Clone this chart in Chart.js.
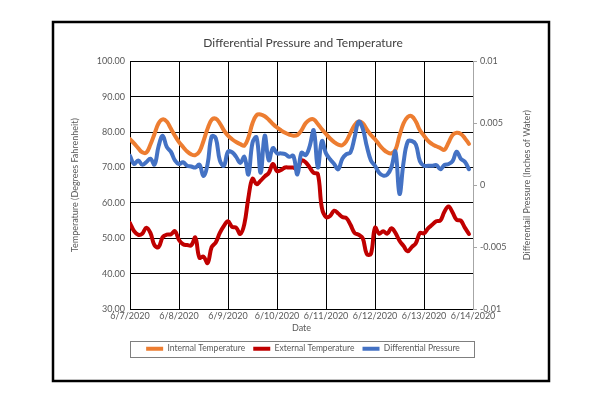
<!DOCTYPE html>
<html>
<head>
<meta charset="utf-8">
<script src="https://cdn.jsdelivr.net/npm/chart.js@4.4.1/dist/chart.umd.min.js"></script>
<style>
  html, body { margin: 0; padding: 0; background: #fff; }
  #wrap { width: 600px; height: 400px; position: relative; }
</style>
</head>
<body>
<div id="wrap"><canvas id="chart"></canvas></div>
<script>
// readings every 2 hours, starting 6/7/2020 00:00
const dayLabels = ['6/7/2020', '6/8/2020', '6/9/2020', '6/10/2020', '6/11/2020', '6/12/2020', '6/13/2020', '6/14/2020'];
const hoursPerReading = 2;

const internalTemp = [
    78, 76.8, 75.5, 74.3, 74.2, 76.5, 79.5, 82.5, 83.6, 83, 81, 79,
    77.2, 75.8, 74.5, 73.7, 73.5, 74.5, 77.5, 81, 83.5, 83.8, 82.5, 80.5,
    79, 78, 77.2, 76.6, 76.2, 78.5, 82.5, 84.8, 85, 84.5, 83.5, 82.3,
    81.3, 80.5, 79.8, 79.3, 79, 79.2, 80.5, 82.5, 83.5, 83.6, 82.3, 80.8,
    79.5, 78.2, 77.2, 76.5, 76.3, 77.5, 79.8, 82, 83, 82.5, 80.8, 79.2,
    78, 76.5, 75.2, 74.3, 74, 75, 79, 82.5, 84.3, 84.5, 83, 80.5,
    79, 77.5, 76.6, 76, 75.5, 75, 77, 79.2, 79.8, 79.5, 78.3, 76.7
];

const externalTemp = [
    54.3, 52, 51, 51.3, 53, 51.5, 48, 47.5, 50.3, 51, 51.1, 52,
    49.5, 48.3, 48.1, 48, 50.2, 44.5, 44.8, 43, 47.5, 48.8, 51.5, 53.5,
    54.8, 53.2, 53, 51.2, 54, 61.5, 66.8, 65.3, 66.3, 67.5, 68.5, 71,
    69, 69.3, 70, 70, 70, 69.5, 72, 71.5, 70, 68.5, 68.2, 58.5,
    56, 56.3, 57.8, 57, 56, 55.7, 53.8, 51.5, 51, 50, 45.5, 45.6,
    53, 51.3, 52, 51.3, 52.8, 51.5, 49.3, 47.8, 46.3, 47.5, 48.6, 51.5,
    51.4, 52.8, 53.8, 54.8, 55, 57.5, 59, 57.3, 55.2, 55, 53, 51.2
];

const diffPressure = [
    0.00237, 0.00171, 0.00200, 0.00166, 0.00186, 0.00214, 0.00166, 0.00314, 0.00400, 0.00309, 0.00271, 0.00200,
    0.00171, 0.00186, 0.00157, 0.00151, 0.00143, 0.00166, 0.00074, 0.00171, 0.00394, 0.00380, 0.00200, 0.00157,
    0.00271, 0.00266, 0.00229, 0.00180, 0.00229, 0.00086, 0.00343, 0.00386, 0.00100, 0.00400, 0.00200, 0.00300,
    0.00257, 0.00257, 0.00251, 0.00229, 0.00237, 0.00086, 0.00263, 0.00243, 0.00314, 0.00443, 0.00143, 0.00357,
    0.00257, 0.00209, 0.00171, 0.00129, 0.00214, 0.00251, 0.00266, 0.00386, 0.00514, 0.00457, 0.00314, 0.00200,
    0.00157, 0.00100, 0.00077, 0.00086, 0.00143, 0.00271, -0.00071, 0.00186, 0.00351, 0.00357, 0.00329, 0.00194,
    0.00157, 0.00157, 0.00157, 0.00163, 0.00129, 0.00163, 0.00171, 0.00194, 0.00271, 0.00214, 0.00189, 0.00129
];

const tempTicks = [30, 40, 50, 60, 70, 80, 90, 100];
const pressureTicks = [-0.01, -0.005, 0, 0.005, 0.01];
const rightTitle = 'Differentail Pressure (Inches of Water)';

function toPoints(values) {
    return values.map((v, i) => ({ x: i * hoursPerReading, y: v }));
}

const FONT = 'Lato, "Liberation Sans", sans-serif';
const TEXT = '#595959';

// outer black frame, box around the legend, right axis title (reads bottom to top)
const framePlugin = {
    id: 'frame',
    afterDraw(chart) {
        const ctx = chart.ctx;
        const area = chart.chartArea;
        ctx.save();
        ctx.strokeStyle = '#000';
        ctx.lineWidth = 2.5;
        ctx.strokeRect(53, 22, 496, 359);

        const boxes = chart.legend.legendHitBoxes;
        if (boxes && boxes.length) {
            let left = Infinity, right = -Infinity, top = Infinity, bottom = -Infinity;
            boxes.forEach(b => {
                left = Math.min(left, b.left);
                right = Math.max(right, b.left + b.width);
                top = Math.min(top, b.top);
                bottom = Math.max(bottom, b.top + b.height);
            });
            ctx.strokeStyle = '#7f7f7f';
            ctx.lineWidth = 1;
            ctx.strokeRect(Math.round(left - 16) + 0.5, Math.round(top - 4) + 0.5,
                Math.round(right - left + 30), Math.round(bottom - top + 7));
        }

        ctx.translate(527, (area.top + area.bottom) / 2);
        ctx.rotate(-Math.PI / 2);
        ctx.fillStyle = TEXT;
        ctx.font = '9px ' + FONT;
        ctx.textAlign = 'center';
        ctx.textBaseline = 'middle';
        ctx.fillText(rightTitle, 0, 0);
        ctx.restore();
    }
};

new Chart(document.getElementById('chart'), {
    type: 'line',
    data: {
        datasets: [{
            label: 'Internal Temperature',
            data: toPoints(internalTemp),
            borderColor: '#ED7D31',
            backgroundColor: '#ED7D31',
            borderWidth: 4,
            yAxisID: 'y',
            order: 3
        }, {
            label: 'External Temperature',
            data: toPoints(externalTemp),
            borderColor: '#C00000',
            backgroundColor: '#C00000',
            borderWidth: 4,
            yAxisID: 'y',
            order: 2
        }, {
            label: 'Differential Pressure',
            data: toPoints(diffPressure),
            borderColor: '#4472C4',
            backgroundColor: '#4472C4',
            borderWidth: 4,
            yAxisID: 'y1',
            order: 1
        }]
    },
    options: {
        responsive: true,
        maintainAspectRatio: false,
        animation: false,
        layout: { padding: { left: 70, right: 64, top: 29, bottom: 37 } },
        elements: {
            point: { radius: 0 },
            line: { tension: 0.4, borderCapStyle: 'round', borderJoinStyle: 'round' }
        },
        plugins: {
            title: {
                display: true,
                text: 'Differential Pressure and Temperature',
                color: '#404040',
                font: { family: FONT, size: 12, weight: 'normal' },
                padding: { top: 7, bottom: 11 }
            },
            legend: {
                position: 'bottom',
                labels: {
                    usePointStyle: true,
                    pointStyle: 'line',
                    pointStyleWidth: 17,
                    color: TEXT,
                    font: { family: FONT, size: 8.5 },
                    padding: 8,
                    sort: (a, b) => a.datasetIndex - b.datasetIndex
                }
            },
            tooltip: { enabled: false }
        },
        scales: {
            x: {
                type: 'linear',
                min: 0,
                max: (dayLabels.length - 1) * 24,
                afterBuildTicks(scale) {
                    scale.ticks = dayLabels.map((d, i) => ({ value: i * 24 }));
                },
                ticks: {
                    autoSkip: false,
                    maxRotation: 0,
                    color: TEXT,
                    font: { family: FONT, size: 9, lineHeight: 1 },
                    padding: 3,
                    callback: (v) => dayLabels[Math.round(v / 24)]
                },
                grid: { color: '#000', lineWidth: 1, drawTicks: false },
                border: { color: '#000' },
                title: {
                    display: true,
                    text: 'Date',
                    color: TEXT,
                    font: { family: FONT, size: 9, lineHeight: 1 },
                    padding: { top: 0, bottom: 3.5 }
                }
            },
            y: {
                position: 'left',
                min: 30,
                max: 100,
                afterBuildTicks(scale) {
                    scale.ticks = tempTicks.map(v => ({ value: v }));
                },
                afterFit(scale) { scale.width = 60; },
                ticks: {
                    color: TEXT,
                    font: { family: FONT, size: 9 },
                    padding: 5,
                    callback: (v) => v.toFixed(2)
                },
                grid: { color: '#000', lineWidth: 1, drawTicks: false },
                border: { color: '#000' },
                title: {
                    display: true,
                    text: 'Temperature (Degrees Fahrenheit)',
                    color: TEXT,
                    font: { family: FONT, size: 9 },
                    padding: 0
                }
            },
            y1: {
                position: 'right',
                min: -0.01,
                max: 0.01,
                afterBuildTicks(scale) {
                    scale.ticks = pressureTicks.map(v => ({ value: v }));
                },
                afterFit(scale) { scale.width = 63; },
                ticks: {
                    color: TEXT,
                    font: { family: FONT, size: 9 },
                    padding: 3,
                    callback: (v) => String(Number(v.toFixed(3)))
                },
                grid: { drawOnChartArea: false, color: '#a6a6a6', tickLength: 4 },
                border: { color: '#a6a6a6' }
            }
        }
    },
    plugins: [framePlugin]
});
</script>
</body>
</html>
